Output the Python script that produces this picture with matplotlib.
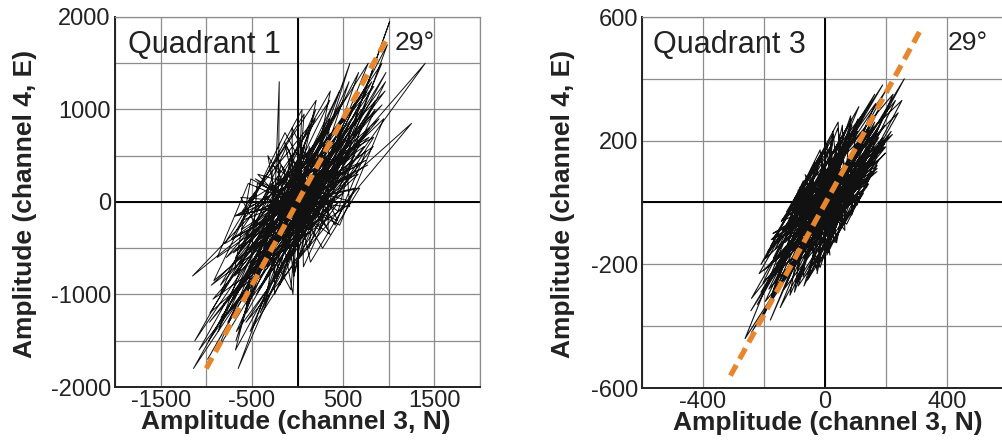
import matplotlib
matplotlib.use('Agg')
import matplotlib.pyplot as plt

plt.rcParams['font.family'] = ['Liberation Sans', 'DejaVu Sans']

# Quadrant 1 particle motion (channel 3 = N on x, channel 4 = E on y)
q1_x = [50, 130, 80, 645, -690, 565, -760, 355, -615, 625,
        -395, 815, -680, 10, -975, 690, 445, -280, -250, 775,
        -310, 35, 65, 850, -965, 255, -375, 460, -555, 730,
        -720, 410, -240, 970, -880, 195, -550, 275, -410, 855,
        -15, -135, -845, 535, -80, 565, -670, 670, -455, 340,
        -1140, 210, 125, 1010, 240, -120, -850, 550, -535, 1400,
        300, -565, 1250, -170, 20, -1150, 735, -210, -200, -245,
        -680, 475, -780, 760, 45, -805, 895, -465, 315, -195,
        575, -650, 490, -525, 505, -960, 505, -305, 430, -335,
        200, -870, -290, 235, 985, -450, 470, -380, 140, -675,
        -200, 960, -540, 665, -610, 285, -765, 670, 30, -75,
        -355, 595, -735, 55, -985, 655, -125, 120, -645, 965,
        245, -440, -560, 700, -165, 80, -1125, 925, 20, 450,
        -700, 790, 90, -225, -40, 360, -570, 215, -520, 835,
        -605, 205, -185, 310, -1080, 345, 335, -180, -495, 0,
        -462, 357, -142, 142, 632, -682, 747, -797, 72, -72,
        -622, 572, 542, -917, -137, 412, 752, -702, 927, -927,
        600, -435, 135, 830, -880, -540, 440, -60, -40, 205,
        -205, 770, -720, 50, -50, -325, 275, 682, -682, 785,
        -685, -512, 462, 945, -945, 327, -327, 837, -837, 0]
q1_y = [0, 600, -400, 900, -800, 300, -1200, 1100, -300, 500,
        -900, 1300, -600, 200, -1500, 800, -100, 400, -1000, 1500,
        -200, 700, -700, 1000, -1300, 100, -500, 1200, -1100, 600,
        -400, 200, -800, 1400, -1600, 900, 0, 500, -1200, 1100,
        -300, 300, -900, 700, -600, 1300, -1400, 400, -100, 800,
        -1800, 200, -500, 1950, -200, 600, -1000, 1000, -700, 1500,
        0, -1300, 850, -400, 400, -800, 700, -200, 1300, 100,
        -1600, 500, -600, 1200, -100, -1100, 900, -300, 300, -900,
        1500, -1800, 800, -500, 100, -1200, 1100, -100, 600, -700,
        1000, -1400, 200, -300, 1700, -1000, 400, -600, 800, -1500,
        0, 1200, -800, 300, -200, 700, -1300, 1400, -400, 500,
        -1100, 900, -700, 100, -1700, 1100, -500, 400, -900, 1300,
        -100, 200, -1200, 1000, -300, 600, -1500, 1500, -600, 0,
        -1000, 800, -200, 500, -800, 1200, -400, 300, -1400, 700,
        -100, 1100, -700, 200, -1600, 900, -300, 400, -900, 0,
        250, -350, 650, -650, 150, -150, 450, -450, 950, -950,
        50, -50, 350, -850, 750, -250, 550, -550, 1050, -1050,
        0, 300, -300, 600, -600, 200, -200, 800, -800, 100,
        -100, 400, -400, 1000, -1000, 500, -500, 150, -150, 700,
        -700, 250, -250, 900, -900, 50, -50, 1250, -1250, 0]

# Quadrant 3 particle motion
q3_x = [20, 22, 14, 167, -160, 144, -134, 135, -143, 169,
        -72, -34, -163, 83, -196, 112, 11, 110, -9, 223,
        -112, -25, -203, 198, -55, 164, -91, -7, -198, 42,
        89, 102, -188, 166, -115, -59, -94, 176, -37, 260,
        -241, 90, 22, 14, -216, 137, -90, 197, -104, 57,
        -69, 231, -56, 80, 38, 5, -157, -62, 61, 108,
        -147, 56, -134, 221, -66, 189, -210, 143, -3, 135,
        -40, 240, -176, 16, -241, 50, 36, 116, -117, 163,
        -23, 103, -122, 69, -179, 111, -125, 24, -93, 217,
        19, -13, -169, 163, -222, -8, 13, 146, -48, 38,
        -184, 155, -140, 132, -16, -100, 252, -58, 39, -36,
        195, -175, -4, 57, 84, -68, -62, -262, 134, 53,
        43, -210, -10, 5, 205, -172, 101, 6, 83, -243,
        107, -99, 171, -201, 52, -132, 198, -149, 32, 104,
        190, -165, 53, -54, 88, -100, -46, 18, 199, 0,
        -82, 72, 171, -171, 20, -20, 126, -126, -12, 12,
        -65, 65, 57, -57, 110, -110, 194, -194, -71, 71,
        177, -177, 26, -26, -88, 88, 130, -130, 88, -88,
        143, -143, 24, -24, -90, -33, 33, 172, -172, 111,
        -111, -16, 16, -16, 16, 190, -190, 170, -170, 0,
        42, -42, 175, -175, -57, 57, 26, -26, 46, 0]
q3_y = [0, 150, -120, 230, -200, 80, -280, 300, -60, 180,
        -240, 120, -150, 260, -320, 40, -90, 200, -180, 350,
        -40, 100, -260, 160, -100, 280, -220, 60, -360, 240,
        -20, 130, -160, 320, -300, 20, -80, 210, -140, 400,
        -420, 90, -50, 170, -230, 50, -110, 250, -190, 140,
        -270, 330, -30, 110, -130, 190, -250, 70, -70, 270,
        -340, 30, -170, 220, -10, 380, -290, 150, -60, 100,
        -200, 290, -120, 10, -310, 200, -80, 120, -230, 260,
        -150, 60, -40, 180, -380, 310, -100, 80, -260, 230,
        -20, 140, -180, 350, -330, 40, -140, 210, -50, 160,
        -280, 100, -90, 240, -210, 0, 330, -250, 70, -120,
        190, -300, 120, -60, 280, -160, 50, -440, 170, -30,
        260, -200, 90, -100, 300, -240, 20, -170, 150, -350,
        230, -70, 110, -220, 40, -130, 360, -270, 130, -10,
        200, -190, 60, -80, 250, -290, 80, -40, 180, 0,
        50, -50, 120, -120, 200, -200, 30, -30, 160, -160,
        90, -90, 250, -250, 10, -10, 180, -180, 70, -70,
        140, -140, 220, -220, 40, -40, 110, -110, 270, -270,
        60, -60, 190, -190, 0, 130, -130, 240, -240, 20,
        -20, 170, -170, 80, -80, 210, -210, 100, -100, 0,
        150, -150, 300, -300, 60, -60, 230, -230, 120, 0]

# 29 degree polarization lines
q1_line_x = [-1000, 1000]
q1_line_y = [-1800, 1800]
q3_line_x = [-310, 320]
q3_line_y = [-560, 570]

q1_xticks = [-2000, -1500, -1000, -500, 0, 500, 1000, 1500, 2000]
q1_xlabels = ['', '-1500', '', '-500', '', '500', '', '1500', '']
q1_yticks = [-2000, -1500, -1000, -500, 0, 500, 1000, 1500, 2000]
q1_ylabels = ['-2000', '', '-1000', '', '0', '', '1000', '', '2000']

q3_xticks = [-600, -400, -200, 0, 200, 400, 600]
q3_xlabels = ['', '-400', '', '0', '', '400', '']
q3_yticks = [-600, -400, -200, 0, 200, 400, 600]
q3_ylabels = ['-600', '', '-200', '', '200', '', '600']

orange = '#E8862E'

fig = plt.figure(figsize=(10.02, 4.44), dpi=100)
ax1 = fig.add_axes([115/1002, 1-387/444, 365/1002, 370/444])
ax2 = fig.add_axes([642/1002, 1-388/444, 366/1002, 371/444])


def style(ax, xt, xl, yt, yl, lim_x, lim_y, label_x, label_y):
    ax.set_xlim(lim_x)
    ax.set_ylim(lim_y)
    ax.set_xticks(xt)
    ax.set_xticklabels(xl)
    ax.set_yticks(yt)
    ax.set_yticklabels(yl)
    ax.tick_params(length=0, labelsize=17, colors='#222222')
    ax.tick_params(axis='y', pad=3)
    ax.tick_params(axis='x', pad=2)
    ax.grid(True, color='#8c8c8c', lw=0.9)
    ax.set_axisbelow(True)
    ax.axhline(0, color='black', lw=1.4, zorder=1.5)
    ax.axvline(0, color='black', lw=1.4, zorder=1.5)
    for s in ['top', 'right']:
        ax.spines[s].set_color('#8c8c8c')
        ax.spines[s].set_linewidth(0.9)
    for s in ['left', 'bottom']:
        ax.spines[s].set_color('#222222')
        ax.spines[s].set_linewidth(1.4)
    ax.set_xlabel('Amplitude (channel 3, N)', fontsize=19, fontweight='bold', color='#222222')
    ax.set_ylabel('Amplitude (channel 4, E)', fontsize=19, fontweight='bold', color='#222222')
    ax.xaxis.set_label_coords(label_x, -0.095)
    ax.xaxis.label.set_va('center')
    ax.yaxis.set_label_coords(label_y, 0.495)
    ax.yaxis.label.set_va('center')


# Quadrant 1
ax1.plot(q1_x, q1_y, color='#111111', lw=0.7, zorder=2)
ax1.plot(q1_line_x, q1_line_y, color=orange, lw=3.8, dashes=(2.3, 1.3), zorder=3)
style(ax1, q1_xticks, q1_xlabels, q1_yticks, q1_ylabels, (-2000, 2000), (-2000, 2000), 0.496, -0.247)
ax1.text(128/1002, 1-45/444, 'Quadrant 1', transform=fig.transFigure, fontsize=22,
         va='center', ha='left', color='#222222')
ax1.text(395/1002, 1-43/444, '29°', transform=fig.transFigure, fontsize=19,
         va='center', ha='left', color='#222222')

# Quadrant 3
ax2.plot(q3_x, q3_y, color='#111111', lw=0.8, zorder=2)
ax2.plot(q3_line_x, q3_line_y, color=orange, lw=3.8, dashes=(2.3, 1.3), zorder=3)
style(ax2, q3_xticks, q3_xlabels, q3_yticks, q3_ylabels, (-600, 600), (-600, 600), 0.508, -0.216)
ax2.text(653/1002, 1-45/444, 'Quadrant 3', transform=fig.transFigure, fontsize=22,
         va='center', ha='left', color='#222222')
ax2.text(948/1002, 1-43/444, '29°', transform=fig.transFigure, fontsize=19,
         va='center', ha='left', color='#222222')

fig.savefig('out.png', dpi=100)
